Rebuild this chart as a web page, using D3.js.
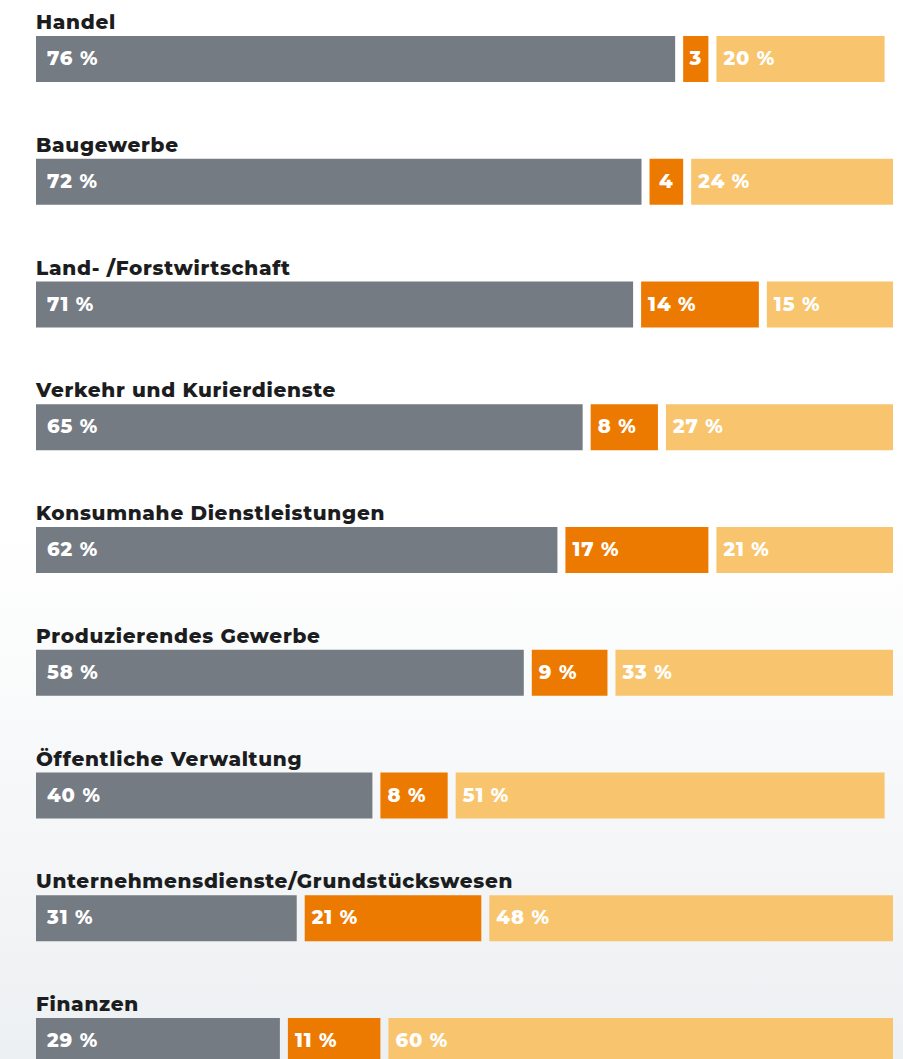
<!DOCTYPE html>
<html>
<head>
<meta charset="utf-8">
<script src="https://cdn.jsdelivr.net/npm/d3@7"></script>
<style>
  html, body { margin: 0; padding: 0; }
  body { width: 903px; height: 1059px; overflow: hidden; }
</style>
</head>
<body>
<div id="chart"></div>
<script>
var categories = ["Handel", "Baugewerbe", "Land- /Forstwirtschaft", "Verkehr und Kurierdienste",
  "Konsumnahe Dienstleistungen", "Produzierendes Gewerbe", "Öffentliche Verwaltung",
  "Unternehmensdienste/Grundstückswesen", "Finanzen"];
var seriesA = [76, 72, 71, 65, 62, 58, 40, 31, 29];
var seriesB = [3, 4, 14, 8, 17, 9, 8, 21, 11];
var seriesC = [20, 24, 15, 27, 21, 33, 51, 48, 60];
var colors = ["#757b82", "#ed7a00", "#f8c56e"];

var width = 903, height = 1059,
    left = 36, right = 893, gap = 8, barH = 46, firstTop = 36, step = 122.75;

var svg = d3.select("#chart").append("svg")
    .attr("width", width)
    .attr("height", height);

var grad = svg.append("defs").append("linearGradient")
    .attr("id", "bg").attr("x1", 0).attr("y1", 0).attr("x2", 0).attr("y2", 1);
grad.append("stop").attr("offset", "0.5").attr("stop-color", "#ffffff");
grad.append("stop").attr("offset", "1").attr("stop-color", "#edf0f2");

svg.append("rect").attr("width", width).attr("height", height).attr("fill", "url(#bg)");

// 100 % plus the two gaps fills the row
var x = d3.scaleLinear().domain([0, 100]).range([0, right - left - 2 * gap]);
var y = d3.scaleBand().domain(categories).range([firstTop, firstTop + step * categories.length]);

var rows = categories.map(function(c, i) {
  var vals = [seriesA[i], seriesB[i], seriesC[i]];
  var pos = left, segs = [];
  vals.forEach(function(v, j) {
    segs.push({ v: v, x: pos, w: x(v), j: j, small: v <= 4 });
    pos += x(v) + gap;
  });
  return { name: c, segs: segs };
});

var row = svg.selectAll("g.row")
  .data(rows)
  .join("g")
    .attr("class", "row")
    .attr("transform", d => "translate(0," + y(d.name) + ")");

row.append("text")
    .attr("x", left)
    .attr("y", -7)
    .attr("font-family", "Montserrat, 'Open Sans', sans-serif")
    .attr("font-weight", 800)
    .attr("font-size", "20px")
    .attr("letter-spacing", "0.7px")
    .attr("fill", "#1c1d20")
    .text(d => d.name);

var seg = row.selectAll("g.seg")
  .data(d => d.segs)
  .join("g")
    .attr("class", "seg");

seg.append("rect")
    .attr("x", d => d.x)
    .attr("y", 0)
    .attr("width", d => d.w)
    .attr("height", barH)
    .attr("fill", d => colors[d.j]);

seg.append("text")
    .attr("x", d => d.small ? d.x + d.w / 2 : d.x + (d.j === 0 ? 11 : 7))
    .attr("y", barH / 2 + 6)
    .attr("text-anchor", d => d.small ? "middle" : "start")
    .attr("font-family", "Montserrat, 'Open Sans', sans-serif")
    .attr("font-weight", 800)
    .attr("font-size", "19.5px")
    .attr("letter-spacing", "0.9px")
    .attr("fill", "#ffffff")
    .text(d => d.small ? d.v : d.v + " %");
</script>
</body>
</html>
